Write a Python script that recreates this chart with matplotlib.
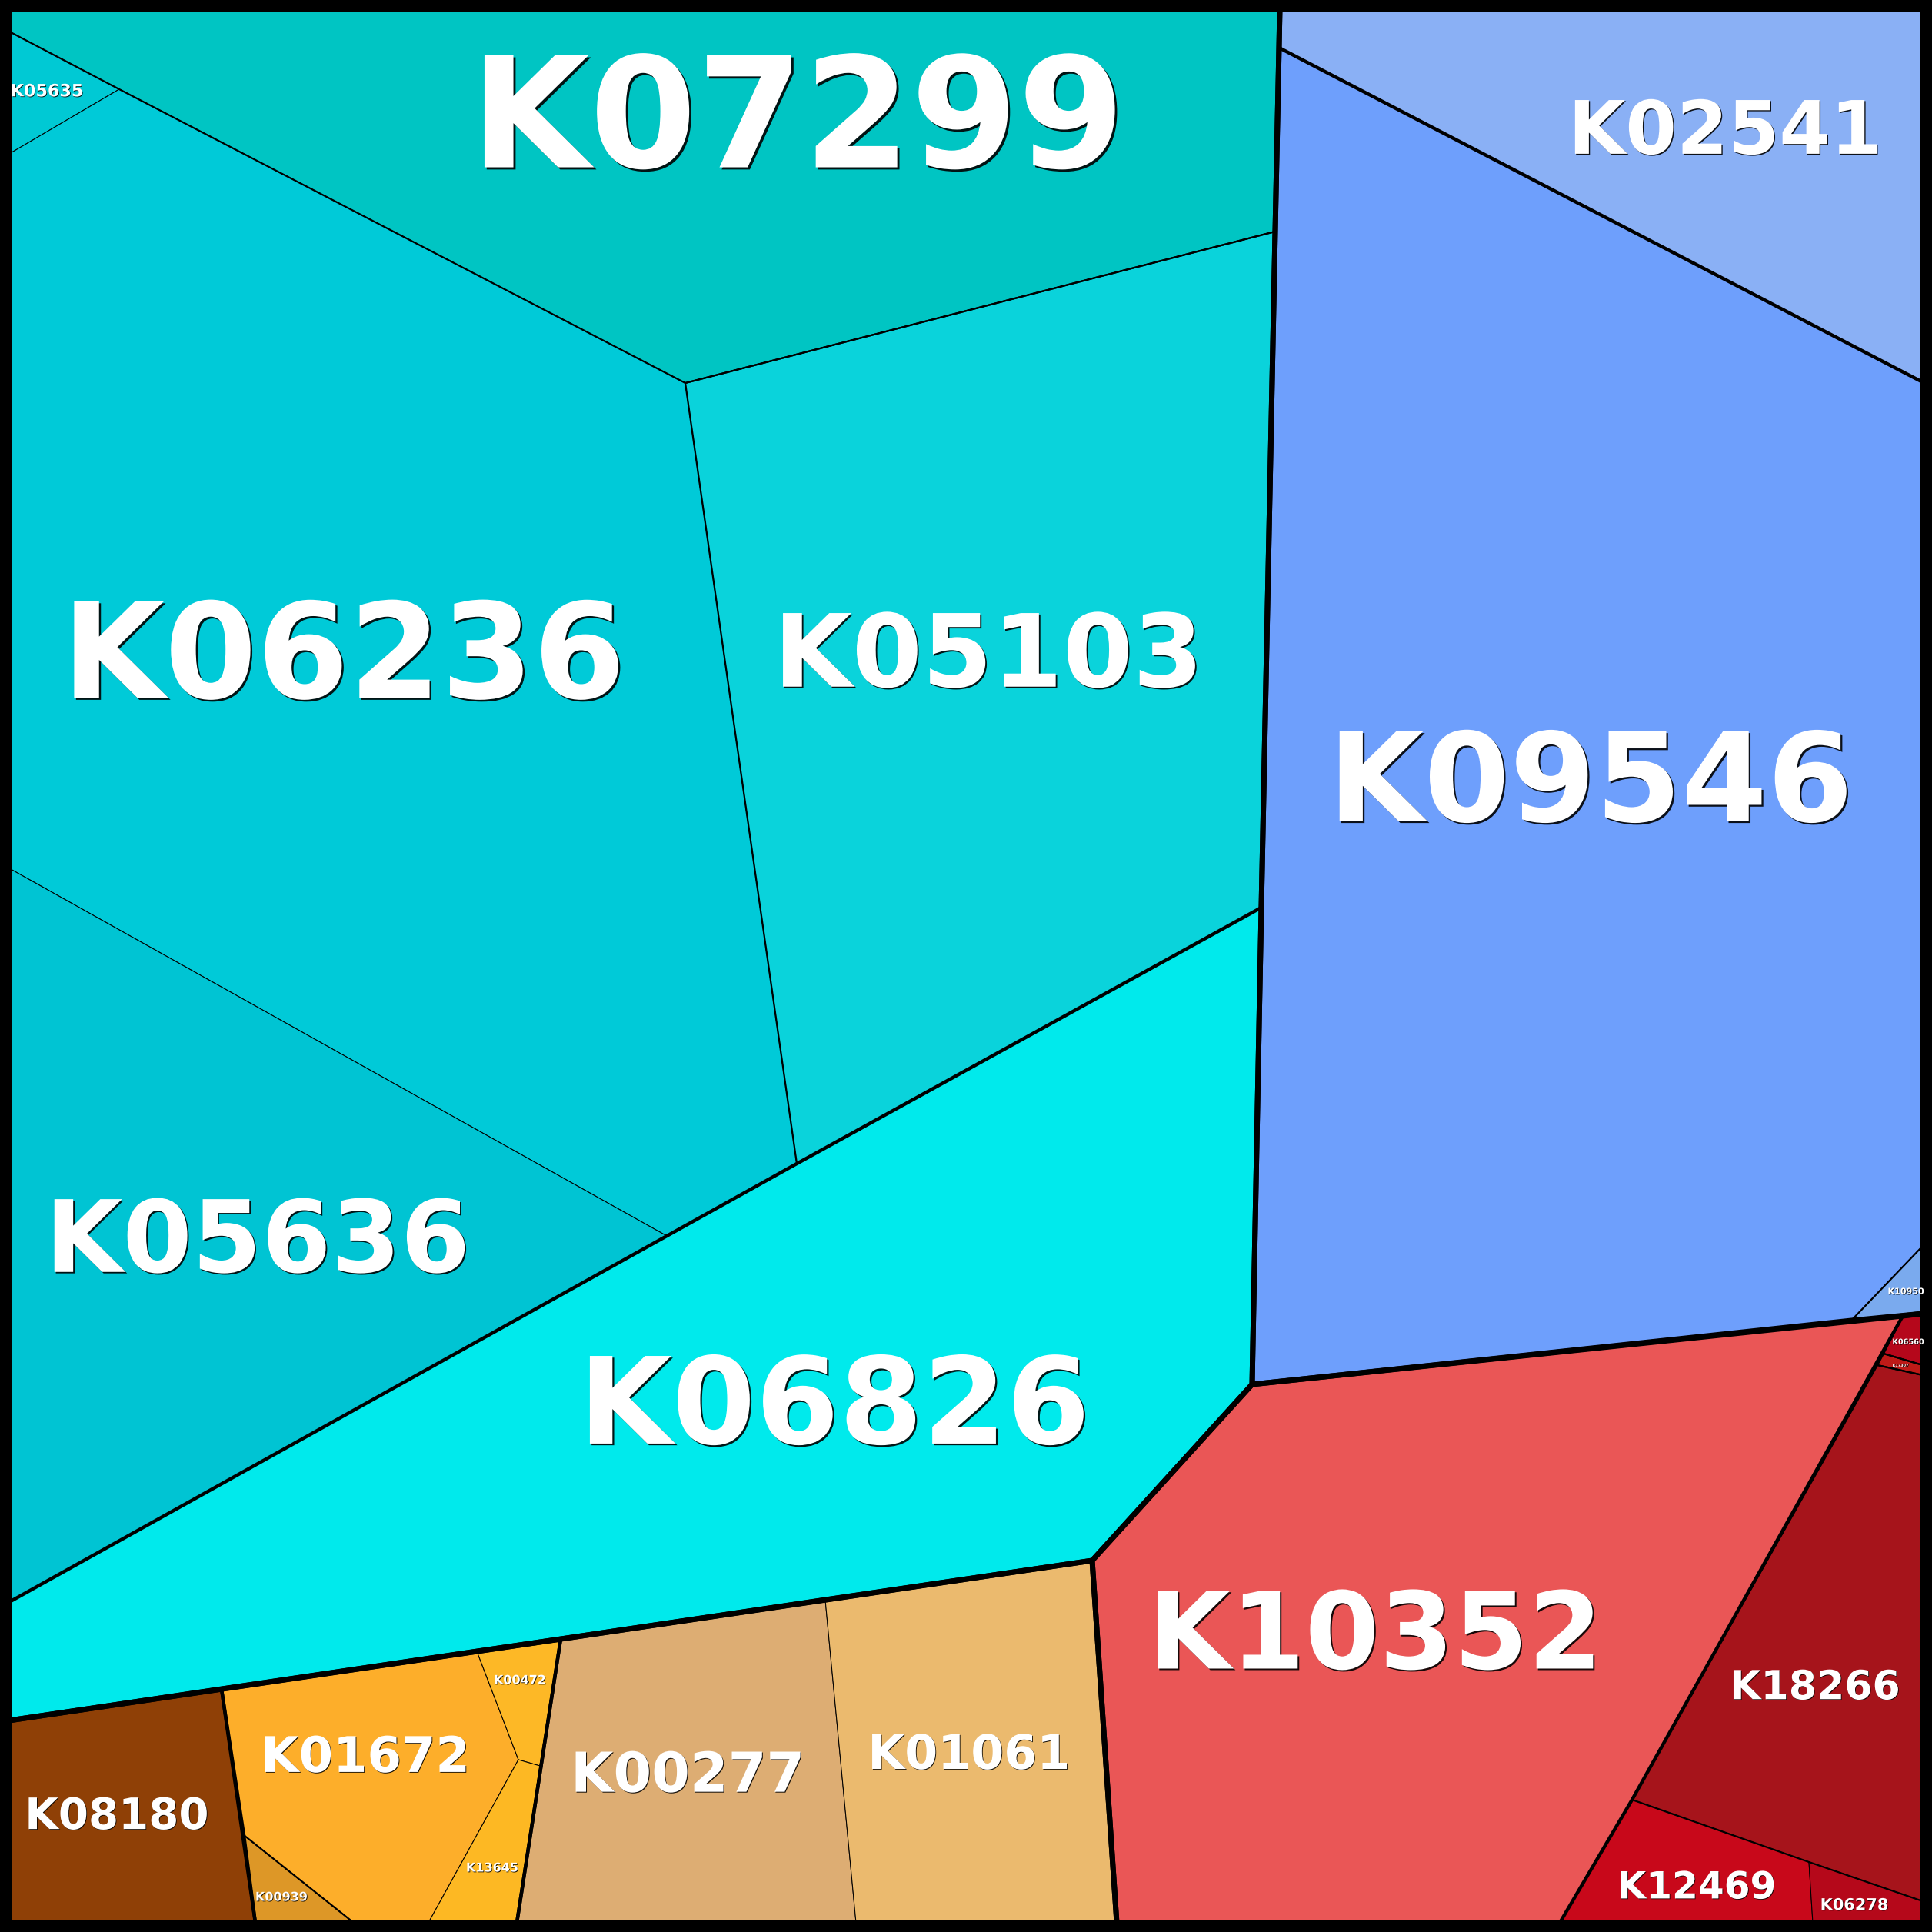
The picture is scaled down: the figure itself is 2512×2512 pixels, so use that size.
import matplotlib
matplotlib.use("Agg")
import matplotlib.pyplot as plt
from matplotlib.patches import Polygon, Rectangle
import matplotlib.patheffects as pe

# ---------------- data ----------------
ko_ids = ["K07299", "K05635", "K06236", "K05636", "K05103", "K06826",
          "K02541", "K09546", "K10950",
          "K10352", "K06560", "K17307", "K18266", "K12469", "K06278",
          "K08180", "K00939", "K01672", "K00472", "K13645", "K00277", "K01061"]
groups = ["cyan"] * 6 + ["blue"] * 3 + ["red"] * 6 + ["orange"] * 7
colors = ["#00C5C3", "#00C9D4", "#00CAD8", "#00C4D3", "#0AD3DB", "#00EAEC",
          "#8AB0F5", "#6E9FFC", "#7AAAEE",
          "#EA5656", "#B5071B", "#BE1A17", "#A6141B", "#C8081A", "#B5081A",
          "#8F4006", "#DD9727", "#FDAE2A", "#FDB826", "#FDB823", "#DDAD73", "#EBBA6E"]

# ---------------- layout (Voronoi treemap geometry, pixel space) ----------------
V = {
    "TL": (12, 12), "TR": (2500, 12), "BR": (2500, 2500), "BL": (12, 2500),
    "c1": (12, 41), "c2": (155, 116), "c3": (12, 200), "c4": (891, 498),
    "c5": (1664, 12), "c6": (1658, 301), "c7": (1640, 1180), "c8": (1036, 1513),
    "c9": (867, 1607), "c10": (12, 1129), "c11": (12, 2083), "c12": (1628, 1800),
    "c13": (1420, 2029), "c14": (12, 2237),
    "b1": (1663, 62), "b2": (2500, 497), "b3": (2500, 1620), "b4": (2407, 1717),
    "b5": (2500, 1708),
    "r1": (2474, 1711), "r2": (2449, 1760), "r3": (2500, 1775), "r4": (2441, 1775),
    "r5": (2500, 1788), "r6": (2122, 2340), "r7": (2352, 2421), "r8": (2500, 2472),
    "r9": (2357, 2500), "r10": (2028, 2500), "r11": (1452, 2500),
    "o1": (288, 2196), "o2": (332, 2500), "o3": (317, 2386), "o4": (460, 2500),
    "o5": (620, 2147), "o6": (729, 2131), "o7": (674, 2288), "o8": (702, 2296),
    "o9": (557, 2500), "o10": (672, 2500), "o11": (1073, 2080), "o12": (1113, 2500),
}
cells = {
    "K07299": ["TL", "c5", "c6", "c4", "c2", "c1"],
    "K05635": ["c1", "c2", "c3"],
    "K06236": ["c3", "c2", "c4", "c8", "c9", "c10"],
    "K05636": ["c10", "c9", "c11"],
    "K05103": ["c4", "c6", "c7", "c8"],
    "K06826": ["c11", "c9", "c8", "c7", "c12", "c13", "c14"],
    "K02541": ["c5", "TR", "b2", "b1"],
    "K09546": ["b1", "b2", "b3", "b4", "c12", "c7", "c6"],
    "K10950": ["b3", "b5", "b4"],
    "K10352": ["c12", "r1", "r6", "r10", "r11", "c13"],
    "K06560": ["r1", "b5", "r3", "r2"],
    "K17307": ["r2", "r3", "r5", "r4"],
    "K18266": ["r4", "r5", "r8", "r7", "r6"],
    "K12469": ["r6", "r7", "r9", "r10"],
    "K06278": ["r7", "r8", "BR", "r9"],
    "K08180": ["c14", "o1", "o2", "BL"],
    "K00939": ["o3", "o4", "o2"],
    "K01672": ["o1", "o5", "o7", "o9", "o4", "o3"],
    "K00472": ["o5", "o6", "o8", "o7"],
    "K13645": ["o7", "o8", "o10", "o9"],
    "K00277": ["o6", "o11", "o12", "o10"],
    "K01061": ["o11", "c13", "r11", "o12"],
}
# outlines of the nesting levels (thicker lines for higher levels)
level2 = [cells["K07299"], cells["K05103"], cells["K10950"], cells["K06560"],
          cells["K17307"], cells["K18266"], cells["K00939"]]
level1 = [cells["K06826"], cells["K02541"], cells["K10352"], cells["K08180"],
          ["o1", "o5", "o6", "o10", "o9", "o4", "o2", "o3"],
          ["o6", "o11", "c13", "r11", "o12", "o10"]]
level0 = [["TL", "c5", "c6", "c7", "c12", "c13", "c14", "c11", "c10", "c3", "c1"],
          ["c5", "TR", "b2", "b3", "b5", "b4", "c12", "c7", "c6", "b1"],
          ["c12", "r1", "b5", "r3", "r5", "r8", "BR", "r9", "r10", "r11", "c13"],
          ["c14", "o1", "o5", "o6", "o11", "c13", "r11", "o12", "o10", "o9", "o4", "o2", "BL"]]

# label placement: x centre, baseline y, font size (pt)
labels = {
    "K07299": (1037, 224, 144), "K06236": (447, 913, 124), "K05103": (1285, 897, 94.5),
    "K09546": (2068, 1073, 115.5), "K02541": (2243, 203, 69), "K05636": (335, 1658, 93.5),
    "K06826": (1085, 1882, 112.5), "K10352": (1788, 2174, 100), "K18266": (2360, 2211, 37.5),
    "K12469": (2206, 2470, 35), "K06278": (2411, 2484, 15), "K08180": (152, 2380, 40.5),
    "K01672": (475, 2306, 46), "K00277": (894, 2332, 51.5), "K01061": (1260, 2302, 44.5),
    "K05635": (61, 126, 16), "K00472": (676, 2190, 11.5), "K13645": (640, 2434, 11.5),
    "K00939": (366, 2472, 11.5), "K10950": (2478, 1683, 8), "K06560": (2481, 1748, 7),
    "K17307": (2471, 1777, 3.5),
}

# ---------------- drawing ----------------
W = 2512
fig = plt.figure(figsize=(W / 100, W / 100), dpi=100)
fig.patch.set_facecolor("black")
ax = fig.add_axes([0, 0, 1, 1])
ax.set_xlim(0, W)
ax.set_ylim(W, 0)
ax.axis("off")
ax.set_facecolor("black")

inner = Rectangle(V["TL"], V["BR"][0] - V["TL"][0], V["BR"][1] - V["TL"][1],
                  transform=ax.transData)


def pts(names):
    return [V[n] for n in names]


for name, col in zip(ko_ids, colors):
    p = ax.add_patch(Polygon(pts(cells[name]), closed=True, facecolor=col,
                             edgecolor="black", linewidth=0.75, joinstyle="miter"))
    p.set_clip_path(inner)

for lev, lw in ((level2, 1.6), (level1, 3.2), (level0, 5.0)):
    for poly in lev:
        p = ax.add_patch(Polygon(pts(poly), closed=True, facecolor="none",
                                 edgecolor="black", linewidth=lw, joinstyle="miter"))
        p.set_clip_path(inner)

for name in ko_ids:
    x, y, fs = labels[name]
    d = max(0.6, fs / 70.0)
    t = ax.text(x, y - 0.045 * fs, name, ha="center", va="baseline", fontsize=fs,
                fontweight="bold", color="white", family="DejaVu Sans",
                path_effects=[pe.withSimplePatchShadow(offset=(d, -d),
                                                       shadow_rgbFace="black", alpha=0.9)])
    t.set_clip_path(inner)

fig.savefig("out.png", dpi=100, facecolor="black")
